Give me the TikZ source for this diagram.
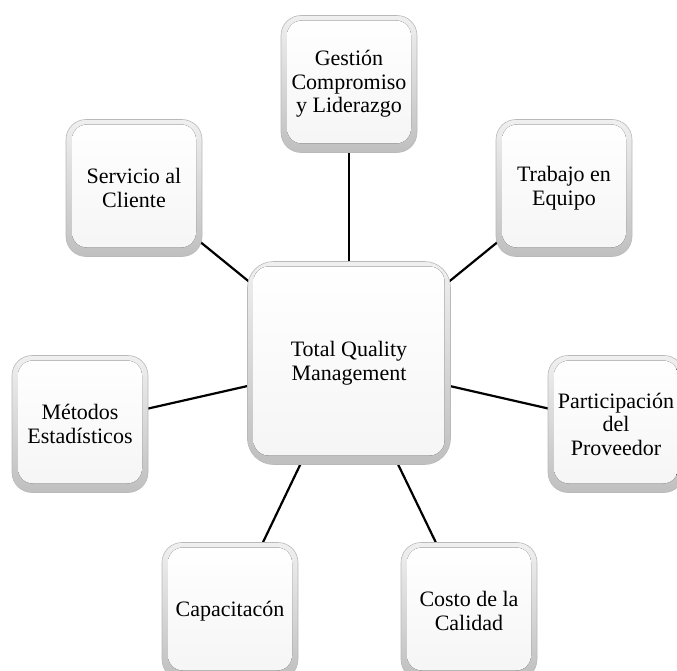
\documentclass[tikz,border=0pt]{standalone}
\usepackage{fontspec}
\setmainfont{Liberation Serif}
\usetikzlibrary{calc,backgrounds}
\tikzset{
  box/.style={rounded corners=20pt, minimum width=136pt, minimum height=137pt,
    inner sep=0pt, align=center, draw=gray!55, line width=0.6pt,
    top color=gray!12, bottom color=gray!50,
    font=\fontsize{22}{23.5}\selectfont,
    path picture={\fill[top color=white, bottom color=gray!8, rounded corners=15pt]
      ($(path picture bounding box.south west)+(6pt,9pt)$) rectangle
      ($(path picture bounding box.north east)+(-6pt,-5pt)$);}},
  bigbox/.style={box, minimum width=203pt, minimum height=203pt, rounded corners=26pt},
  link/.style={line width=2.2pt, black}
}
\begin{document}
\begin{tikzpicture}[x=1pt, y=-1pt]
\useasboundingbox (0,0) rectangle (677,671);
\clip (0,0) rectangle (677,671);
\node[box] (g) at (349,84) {Gestión\\Compromiso\\y Liderazgo};
\node[box] (s) at (134,188) {Servicio al\\Cliente};
\node[box] (t) at (564,188) {Trabajo en\\Equipo};
\node[bigbox] (c) at (349,363) {Total Quality\\Management};
\node[box] (m) at (80,424) {Métodos\\Estadísticos};
\node[box] (p) at (616,424) {Participación\\del\\Proveedor};
\node[box] (k) at (230,611) {Capacitacón};
\node[box] (q) at (469,611) {Costo de la\\Calidad};
\begin{scope}[on background layer]
\draw[link] (c.center) -- (g.center);
\draw[link] (c.center) -- (s.center);
\draw[link] (c.center) -- (t.center);
\draw[link] (c.center) -- (m.center);
\draw[link] (c.center) -- (p.center);
\draw[link] (c.center) -- (k.center);
\draw[link] (c.center) -- (q.center);
\end{scope}
\end{tikzpicture}
\end{document}
